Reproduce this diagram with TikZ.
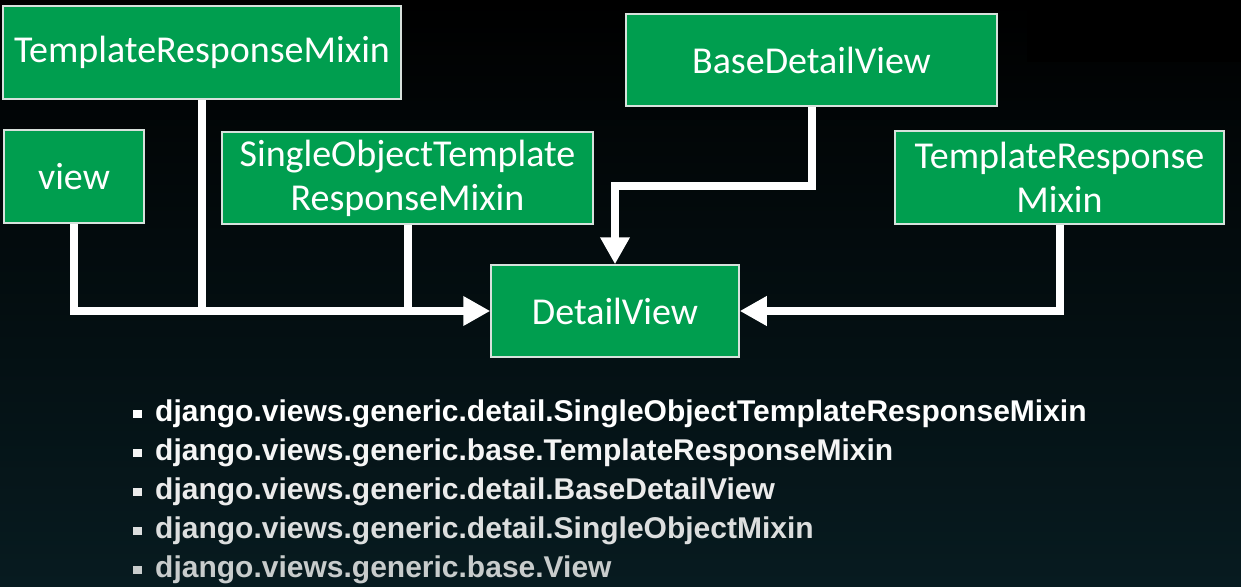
\documentclass[tikz,border=0pt]{standalone}
\usepackage{fontspec}
\setmainfont{Carlito}
\newfontfamily\bulletfont{Liberation Sans Bold}
\usetikzlibrary{arrows.meta}
\definecolor{boxgreen}{RGB}{0,158,79}
\definecolor{boxline}{RGB}{215,225,220}
\definecolor{bgbottom}{RGB}{7,27,32}
\definecolor{overlay}{RGB}{10,21,30}
\tikzset{
  classbox/.style={draw=boxline, line width=1.5pt, fill=boxgreen, text=white,
    inner sep=0pt, align=center, font=\fontsize{38}{44}\selectfont},
  link/.style={draw=white, line width=8pt},
  linkarrow/.style={link, -{Triangle[length=27pt,width=28pt]}},
  bulletline/.style={anchor=base west, inner sep=0pt, font=\bulletfont\fontsize{30}{35}\selectfont},
}
\newcommand{\sqbullet}{\rule[3pt]{9pt}{8pt}\hspace{13pt}}
\begin{document}
\begin{tikzpicture}[x=1pt,y=-1pt]
\useasboundingbox (0,0) rectangle (1241,586);
\shade[top color=black, bottom color=bgbottom] (0,0) rectangle (1241,586);
\fill[overlay] (1027,3) rectangle (1241,62);

\node[classbox, minimum width=398pt, minimum height=93pt] (trm) at (202,52.5) {TemplateResponseMixin};
\node[classbox, minimum width=140pt, minimum height=93pt] (view) at (74,176.5) {view};
\node[classbox, minimum width=371pt, minimum height=92pt] (sotrm) at (407.5,178) {SingleObjectTemplate\\ResponseMixin};
\node[classbox, minimum width=371pt, minimum height=92pt] (bdv) at (811.5,60) {BaseDetailView};
\node[classbox, minimum width=329pt, minimum height=93pt] (trm2) at (1059.5,177.5) {TemplateResponse\\Mixin};
\node[classbox, minimum width=248pt, minimum height=92pt] (dv) at (615,311) {DetailView};

\draw[linkarrow] (view.south) |- (dv.west);
\draw[link] (trm.south) -- (trm.south |- dv.west);
\draw[link] (sotrm.south) -- (sotrm.south |- dv.west);
\draw[linkarrow] (bdv.south) -- ++(0,79) -| (dv.north);
\draw[linkarrow] (trm2.south) |- (dv.east);

\node[bulletline, text=white] (l1) at (133,421) {\sqbullet django.views.generic.detail.SingleObjectTemplateResponseMixin};
\node[bulletline, text={rgb,255:red,245;green,245;blue,245}] (l2) at (133,460) {\sqbullet django.views.generic.base.TemplateResponseMixin};
\node[bulletline, text={rgb,255:red,235;green,235;blue,235}] (l3) at (133,499) {\sqbullet django.views.generic.detail.BaseDetailView};
\node[bulletline, text={rgb,255:red,220;green,222;blue,222}] (l4) at (133,538) {\sqbullet django.views.generic.detail.SingleObjectMixin};
\node[bulletline, text={rgb,255:red,200;green,204;blue,204}] (l5) at (133,577) {\sqbullet django.views.generic.base.View};
\end{tikzpicture}
\end{document}
